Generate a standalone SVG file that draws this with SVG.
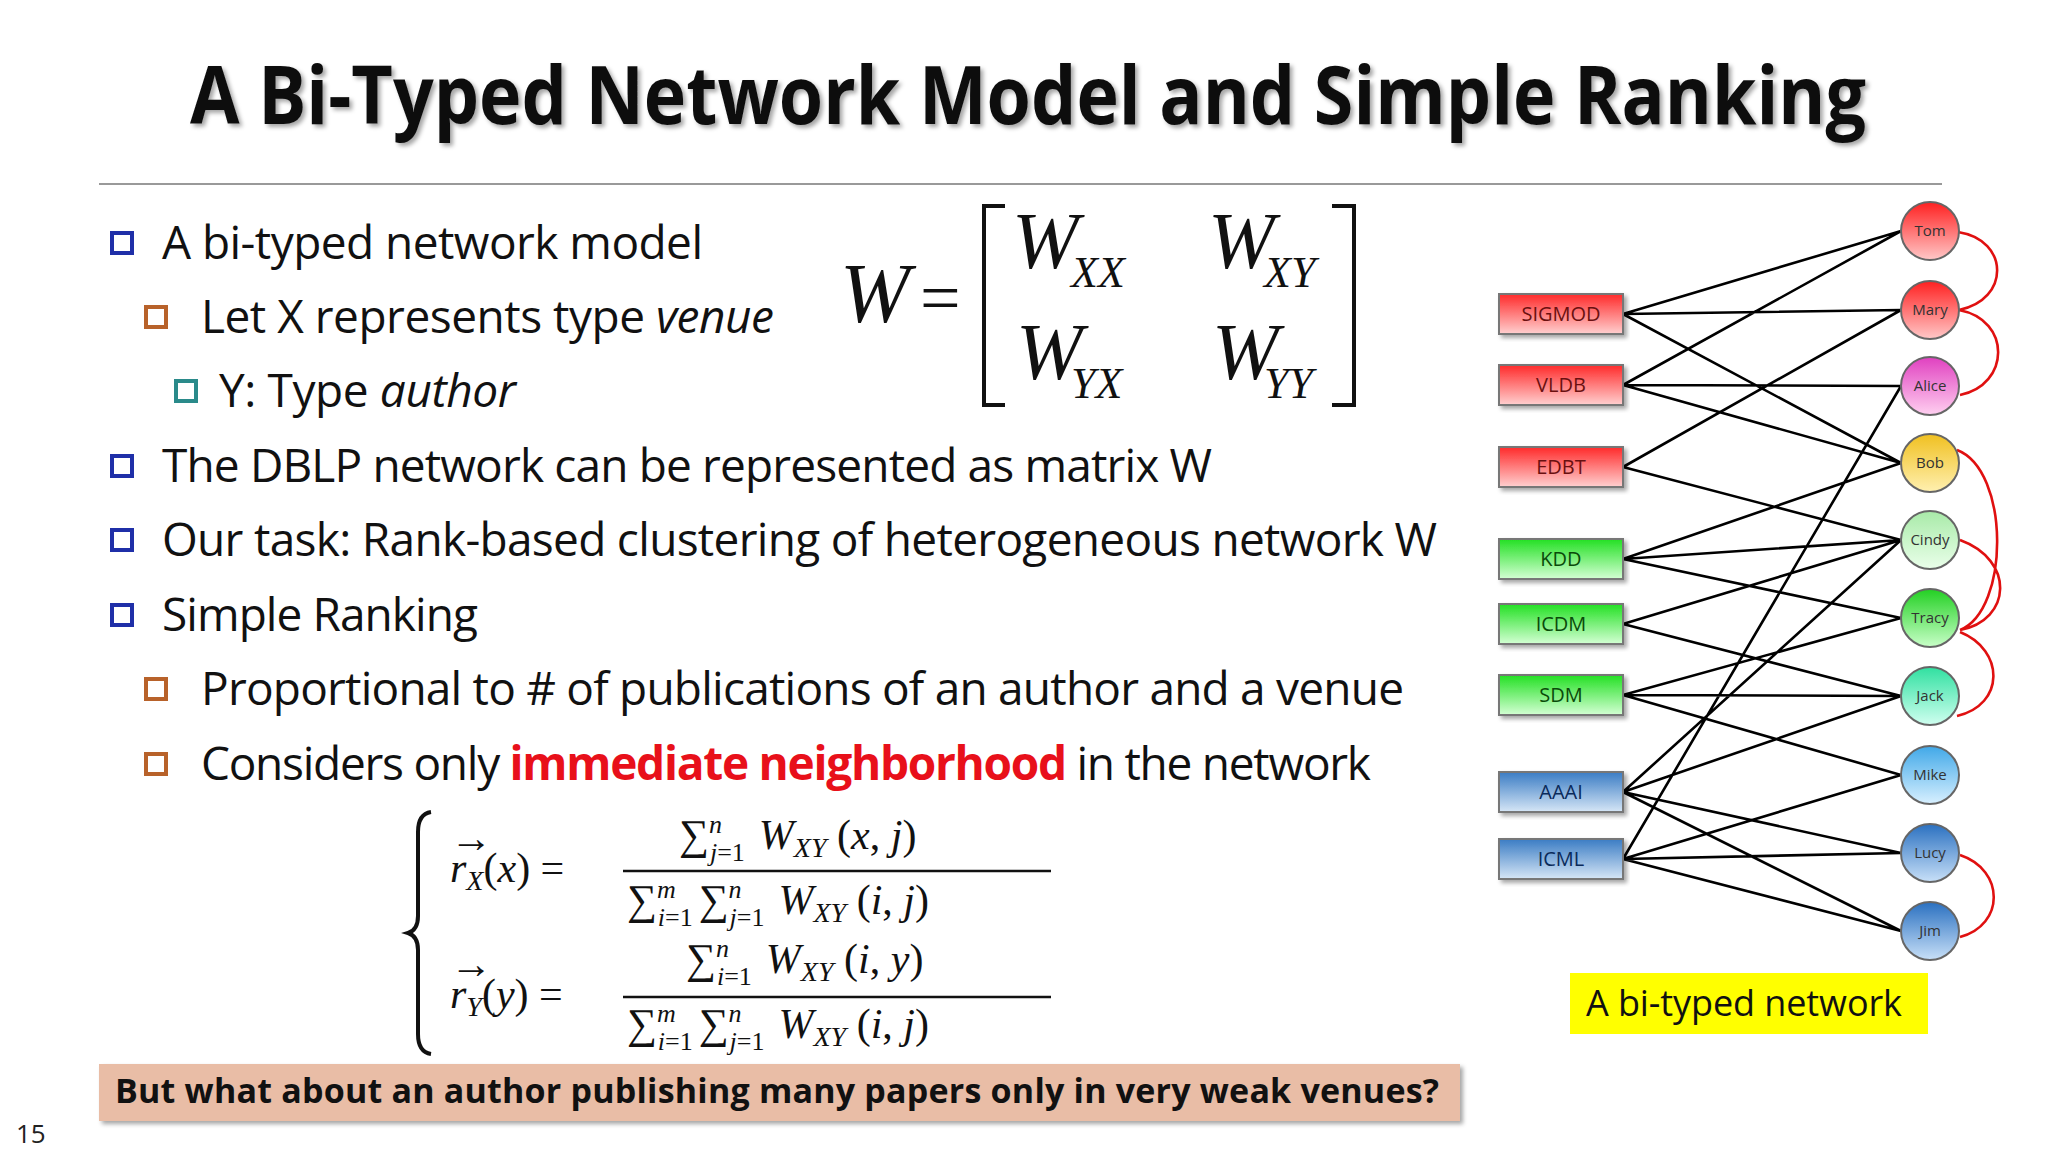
<svg xmlns="http://www.w3.org/2000/svg" width="2048" height="1152" viewBox="0 0 2048 1152">
<defs>
<filter id="sh" x="-5%" y="-20%" width="110%" height="140%"><feDropShadow dx="3" dy="3" stdDeviation="2" flood-color="#000" flood-opacity="0.35"/></filter>
<filter id="tsh" filterUnits="userSpaceOnUse" x="0" y="0" width="2048" height="200"><feDropShadow dx="3" dy="3" stdDeviation="2" flood-color="#000" flood-opacity="0.35"/></filter>
<linearGradient id="gr" x1="0" y1="0" x2="0" y2="1"><stop offset="0" stop-color="#ff2a2a"/><stop offset="1" stop-color="#ffd0d0"/></linearGradient>
<linearGradient id="gg" x1="0" y1="0" x2="0" y2="1"><stop offset="0" stop-color="#22e022"/><stop offset="1" stop-color="#d4ffd4"/></linearGradient>
<linearGradient id="gb" x1="0" y1="0" x2="0" y2="1"><stop offset="0" stop-color="#3a7cc4"/><stop offset="1" stop-color="#d6e6f6"/></linearGradient>
<linearGradient id="cTom" x1="0" y1="0" x2="0" y2="1"><stop offset="0" stop-color="#ff2020"/><stop offset="1" stop-color="#ffc8c8"/></linearGradient>
<linearGradient id="cAlice" x1="0" y1="0" x2="0" y2="1"><stop offset="0" stop-color="#e040c0"/><stop offset="1" stop-color="#ffd0f0"/></linearGradient>
<linearGradient id="cBob" x1="0" y1="0" x2="0" y2="1"><stop offset="0" stop-color="#f0c020"/><stop offset="1" stop-color="#fff0b0"/></linearGradient>
<linearGradient id="cCindy" x1="0" y1="0" x2="0" y2="1"><stop offset="0" stop-color="#a8eaa8"/><stop offset="1" stop-color="#eaffea"/></linearGradient>
<linearGradient id="cTracy" x1="0" y1="0" x2="0" y2="1"><stop offset="0" stop-color="#22d022"/><stop offset="1" stop-color="#c8ffc8"/></linearGradient>
<linearGradient id="cJack" x1="0" y1="0" x2="0" y2="1"><stop offset="0" stop-color="#30e0a0"/><stop offset="1" stop-color="#d0fff0"/></linearGradient>
<linearGradient id="cMike" x1="0" y1="0" x2="0" y2="1"><stop offset="0" stop-color="#40a8e8"/><stop offset="1" stop-color="#d8f0ff"/></linearGradient>
<linearGradient id="cLucy" x1="0" y1="0" x2="0" y2="1"><stop offset="0" stop-color="#2a70c0"/><stop offset="1" stop-color="#c8e0f8"/></linearGradient>
</defs>
<style>
.t{font-family:"Open Sans","Noto Sans",sans-serif;font-size:46px;fill:#111}
.bx{stroke:#777;stroke-width:2;filter:url(#sh)}
.bt{font-family:"Open Sans","Noto Sans",sans-serif;font-size:20px;text-anchor:middle}
.ci{stroke:#666;stroke-width:2}
.ct{font-family:"Open Sans","Noto Sans",sans-serif;font-size:15px;text-anchor:middle;fill:#333}
.e{stroke:#000;stroke-width:2.6;fill:none}
.r{stroke:#e01010;stroke-width:2.6;fill:none}
.m{font-family:"Liberation Serif",serif;font-style:italic;fill:#111}
.f{font-family:"Liberation Serif",serif;fill:#111;font-size:42px}
.b1{fill:#fff;stroke:#1f2fa8;stroke-width:4}
.b2{fill:#fff;stroke:#b8622a;stroke-width:4}
.b3{fill:#fff;stroke:#2a8a8a;stroke-width:4}
</style>
<rect width="2048" height="1152" fill="#fff"/>
<text x="1028" y="124" text-anchor="middle" font-family="Open Sans,Noto Sans,sans-serif" font-weight="bold" font-size="80" fill="#111" textLength="1676" lengthAdjust="spacingAndGlyphs" filter="url(#tsh)">A Bi-Typed Network Model and Simple Ranking</text>
<line x1="99" y1="184" x2="1942" y2="184" stroke="#999" stroke-width="2"/>
<g id="bullets">
<rect class="b1" x="112" y="233" width="20" height="20"/>
<text class="t" x="162" y="259" textLength="541">A bi-typed network model</text>
<rect class="b2" x="146" y="307" width="20" height="20"/>
<text class="t" x="201" y="333" textLength="573">Let X represents type <tspan font-style="italic">venue</tspan></text>
<rect class="b3" x="176" y="381" width="20" height="20"/>
<text class="t" x="219" y="407" textLength="297">Y: Type <tspan font-style="italic">author</tspan></text>
<rect class="b1" x="112" y="456" width="20" height="20"/>
<text class="t" x="162" y="482" textLength="1050">The DBLP network can be represented as matrix W</text>
<rect class="b1" x="112" y="530" width="20" height="20"/>
<text class="t" x="162" y="556" textLength="1275">Our task: Rank-based clustering of heterogeneous network W</text>
<rect class="b1" x="112" y="605" width="20" height="20"/>
<text class="t" x="162" y="631" textLength="316">Simple Ranking</text>
<rect class="b2" x="146" y="679" width="20" height="20"/>
<text class="t" x="201" y="705" textLength="1203">Proportional to # of publications of an author and a venue</text>
<rect class="b2" x="146" y="754" width="20" height="20"/>
<text class="t" x="201" y="780" textLength="1170">Considers only <tspan fill="#e8101a" font-weight="bold">immediate neighborhood</tspan> in the network</text>
</g>
<g id="matrix">
<text class="m" x="840" y="322" font-size="84">W</text>
<text x="920" y="322" font-family="Liberation Serif,serif" font-size="72" fill="#111">=</text>
<path d="M1005,206 H984 V405 H1005 M1332,206 H1354 V405 H1332" fill="none" stroke="#111" stroke-width="4"/>
<text class="m" x="1012" y="268" font-size="80">W</text><text class="m" x="1071" y="287" font-size="44">XX</text>
<text class="m" x="1208" y="268" font-size="80">W</text><text class="m" x="1264" y="287" font-size="44">XY</text>
<text class="m" x="1016" y="379" font-size="80">W</text><text class="m" x="1071" y="398" font-size="44">YX</text>
<text class="m" x="1212" y="379" font-size="80">W</text><text class="m" x="1264" y="398" font-size="44">YY</text>
</g>
<g id="formula">
<path d="M431,812 Q418,814 418,832 V916 Q418,930 408,933 Q418,936 418,950 V1034 Q418,1052 431,1054" fill="none" stroke="#111" stroke-width="4"/>
<text class="f" x="450" y="882"><tspan font-style="italic">r</tspan><tspan font-size="28" dy="8" font-style="italic">X</tspan><tspan dy="-8">(</tspan><tspan font-style="italic">x</tspan>) =</text>
<text class="f" x="450" y="852" font-size="24">→</text>
<line x1="623" y1="871" x2="1051" y2="871" stroke="#111" stroke-width="2.5"/>
<text class="f" x="679" y="849">∑<tspan font-size="26" dy="-16" font-style="italic">n</tspan><tspan font-size="26" dx="-12" dy="28" font-style="italic">j</tspan><tspan font-size="26" dy="0">=1</tspan><tspan dx="14" dy="-12" font-style="italic">W</tspan><tspan font-size="28" dy="8" font-style="italic">XY</tspan><tspan dy="-8"> (</tspan><tspan font-style="italic">x</tspan>, <tspan font-style="italic">j</tspan>)</text>
<text class="f" x="627" y="914">∑<tspan font-size="26" dy="-16" font-style="italic">m</tspan><tspan font-size="26" dx="-18" dy="28" font-style="italic">i</tspan><tspan font-size="26">=1</tspan><tspan dx="6" dy="-12">∑</tspan><tspan font-size="26" dy="-16" font-style="italic">n</tspan><tspan font-size="26" dx="-12" dy="28" font-style="italic">j</tspan><tspan font-size="26">=1</tspan><tspan dx="14" dy="-12" font-style="italic">W</tspan><tspan font-size="28" dy="8" font-style="italic">XY</tspan><tspan dy="-8"> (</tspan><tspan font-style="italic">i</tspan>, <tspan font-style="italic">j</tspan>)</text>
<text class="f" x="450" y="1008"><tspan font-style="italic">r</tspan><tspan font-size="28" dy="8" font-style="italic">Y</tspan><tspan dy="-8">(</tspan><tspan font-style="italic">y</tspan>) =</text>
<text class="f" x="450" y="978" font-size="24">→</text>
<line x1="623" y1="997" x2="1051" y2="997" stroke="#111" stroke-width="2.5"/>
<text class="f" x="686" y="973">∑<tspan font-size="26" dy="-16" font-style="italic">n</tspan><tspan font-size="26" dx="-12" dy="28" font-style="italic">i</tspan><tspan font-size="26">=1</tspan><tspan dx="14" dy="-12" font-style="italic">W</tspan><tspan font-size="28" dy="8" font-style="italic">XY</tspan><tspan dy="-8"> (</tspan><tspan font-style="italic">i</tspan>, <tspan font-style="italic">y</tspan>)</text>
<text class="f" x="627" y="1038">∑<tspan font-size="26" dy="-16" font-style="italic">m</tspan><tspan font-size="26" dx="-18" dy="28" font-style="italic">i</tspan><tspan font-size="26">=1</tspan><tspan dx="6" dy="-12">∑</tspan><tspan font-size="26" dy="-16" font-style="italic">n</tspan><tspan font-size="26" dx="-12" dy="28" font-style="italic">j</tspan><tspan font-size="26">=1</tspan><tspan dx="14" dy="-12" font-style="italic">W</tspan><tspan font-size="28" dy="8" font-style="italic">XY</tspan><tspan dy="-8"> (</tspan><tspan font-style="italic">i</tspan>, <tspan font-style="italic">j</tspan>)</text>
</g>
<g id="callout">
<rect x="99" y="1064" width="1361" height="57" fill="#e9bda6" filter="url(#sh)"/>
<text x="115" y="1103" font-family="Open Sans,Noto Sans,sans-serif" font-weight="bold" font-size="34" fill="#111" textLength="1324">But what about an author publishing many papers only in very weak venues?</text>
</g>
<text x="16" y="1143" font-family="Open Sans,Noto Sans,sans-serif" font-size="26" fill="#222">15</text>
<g id="label">
<rect x="1570" y="973" width="358" height="61" fill="#ffff00"/>
<text x="1586" y="1016" font-family="Open Sans,Noto Sans,sans-serif" font-size="36" fill="#111" textLength="316">A bi-typed network</text>
</g>
<g id="connectors">
<path class="e" d="M1623,314 L1901,231 M1623,314 L1901,310 M1623,314 L1901,463 M1623,385 L1901,231 M1623,385 L1901,386 M1623,385 L1901,463 M1623,467 L1901,310 M1623,467 L1901,540 M1623,559 L1901,463 M1623,559 L1901,540 M1623,559 L1901,618 M1623,624 L1901,540 M1623,624 L1901,696 M1623,695 L1901,618 M1623,695 L1901,696 M1623,695 L1901,775 M1623,792 L1901,540 M1623,792 L1901,696 M1623,792 L1901,853 M1623,792 L1901,931 M1623,859 L1901,386 M1623,859 L1901,775 M1623,859 L1901,853 M1623,859 L1901,931"/>
<path class="r" d="M1958,232 C2010,240 2010,300 1959,310 M1959,310 C2012,320 2010,385 1960,395 M1957,450 C2010,470 2010,610 1960,630 M1960,540 C2015,560 2012,620 1960,630 M1960,632 C2005,650 2005,705 1957,716 M1960,855 C2005,870 2005,925 1960,937"/>
</g>
<g id="SIGMOD"><rect class="bx" x="1499" y="294" width="124" height="40" fill="url(#gr)"/><text class="bt" x="1561" y="321" fill="#6a1010">SIGMOD</text></g>
<g id="VLDB"><rect class="bx" x="1499" y="365" width="124" height="40" fill="url(#gr)"/><text class="bt" x="1561" y="392" fill="#6a1010">VLDB</text></g>
<g id="EDBT"><rect class="bx" x="1499" y="447" width="124" height="40" fill="url(#gr)"/><text class="bt" x="1561" y="474" fill="#6a1010">EDBT</text></g>
<g id="KDD"><rect class="bx" x="1499" y="539" width="124" height="40" fill="url(#gg)"/><text class="bt" x="1561" y="566" fill="#0a4a0a">KDD</text></g>
<g id="ICDM"><rect class="bx" x="1499" y="604" width="124" height="40" fill="url(#gg)"/><text class="bt" x="1561" y="631" fill="#0a4a0a">ICDM</text></g>
<g id="SDM"><rect class="bx" x="1499" y="675" width="124" height="40" fill="url(#gg)"/><text class="bt" x="1561" y="702" fill="#0a4a0a">SDM</text></g>
<g id="AAAI"><rect class="bx" x="1499" y="772" width="124" height="40" fill="url(#gb)"/><text class="bt" x="1561" y="799" fill="#0a2a5a">AAAI</text></g>
<g id="ICML"><rect class="bx" x="1499" y="839" width="124" height="40" fill="url(#gb)"/><text class="bt" x="1561" y="866" fill="#0a2a5a">ICML</text></g>
<g id="Tom"><circle class="ci" cx="1930" cy="231" r="29" fill="url(#cTom)"/><text class="ct" x="1930" y="236">Tom</text></g>
<g id="Mary"><circle class="ci" cx="1930" cy="310" r="29" fill="url(#cTom)"/><text class="ct" x="1930" y="315">Mary</text></g>
<g id="Alice"><circle class="ci" cx="1930" cy="386" r="29" fill="url(#cAlice)"/><text class="ct" x="1930" y="391">Alice</text></g>
<g id="Bob"><circle class="ci" cx="1930" cy="463" r="29" fill="url(#cBob)"/><text class="ct" x="1930" y="468">Bob</text></g>
<g id="Cindy"><circle class="ci" cx="1930" cy="540" r="29" fill="url(#cCindy)"/><text class="ct" x="1930" y="545">Cindy</text></g>
<g id="Tracy"><circle class="ci" cx="1930" cy="618" r="29" fill="url(#cTracy)"/><text class="ct" x="1930" y="623">Tracy</text></g>
<g id="Jack"><circle class="ci" cx="1930" cy="696" r="29" fill="url(#cJack)"/><text class="ct" x="1930" y="701">Jack</text></g>
<g id="Mike"><circle class="ci" cx="1930" cy="775" r="29" fill="url(#cMike)"/><text class="ct" x="1930" y="780">Mike</text></g>
<g id="Lucy"><circle class="ci" cx="1930" cy="853" r="29" fill="url(#cLucy)"/><text class="ct" x="1930" y="858">Lucy</text></g>
<g id="Jim"><circle class="ci" cx="1930" cy="931" r="29" fill="url(#cLucy)"/><text class="ct" x="1930" y="936">Jim</text></g>
</svg>
